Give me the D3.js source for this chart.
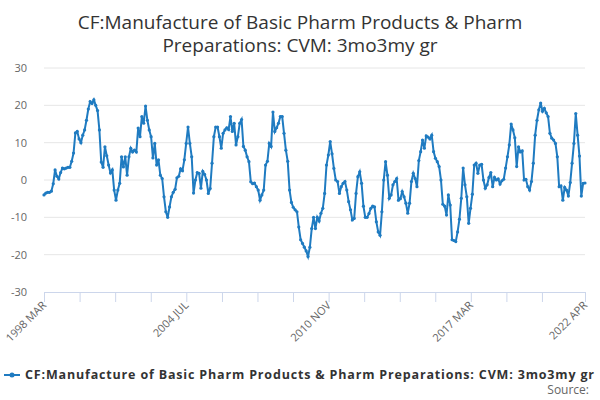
<!DOCTYPE html>
<html><head><meta charset="utf-8">
<script src="https://cdn.jsdelivr.net/npm/d3@7"></script>
<style>body{margin:0;background:#fff;font-family:"Open Sans","DejaVu Sans",sans-serif}</style>
</head><body><svg id="c" width="600" height="400"></svg>
<script>
const titleLines = ["CF:Manufacture of Basic Pharm Products & Pharm", "Preparations: CVM: 3mo3my gr"];
const seriesName = "CF:Manufacture of Basic Pharm Products & Pharm Preparations: CVM: 3mo3my gr";
const startDate = new Date(1998, 2, 1);
const endDate = new Date(2022, 3, 1);
const yTicks = [-30, -20, -10, 0, 10, 20, 30];
const tickLabels = [["1998 MAR", new Date(1998,2,1)], ["2004 JUL", new Date(2004,6,1)], ["2010 NOV", new Date(2010,10,1)], ["2017 MAR", new Date(2017,2,1)], ["2022 APR", new Date(2022,3,1)]];
const seg1 = [-4,-3.5,-3.3,-3.3,-3,-1,2.7,1,0.3,2,3.2,3,3.2,3.4,3.4,5,7.2,12.6,13,11,10,12,13.4,16,19,21,20.5,21.5,20,18.6,13.4,4.8,3.4,8.9,6.5,4,1.9,2.7,-2.7,-5.4,-2.7,-0.9,6.2,3.5,6.2,1.3,6.2,8.5,7.5,8,7.5,13.9,11.6,17,15.2,19.8,16,13.4,11.6,5.9,9.8,4,5.4,1.3,0.4,-4.5,-8.5,-10,-7.2,-4.5,-3.3,-2.5,0.6,1,3,2.5];
const seg2 = [5.4,9.8,14.2,9.8,6.2,-3.5,0,2,1.8,-2.2,2.3,1.5,0,-3.6,-2.3,4.5,11.6,14.2,14.2,11.6,8.5,12.5,13.4,14,13.5,17,13,15.2,9.4,11.6,15.2,16.2,9,8,6.2,4.9,-0.5,-1,-0.8,-1.8,-2.7,-5.4,-4,-2.7,4,5,9.8,9,18.2,13,14,15.2,17,17,12.5,8,5,-2.7,-6,-7.3,-8,-8.5,-12.6,-16,-17,-18,-19,-20.5,-18,-13,-10];
const seg3 = [-13,-10,-11,-8.9,-7.6,-3.6,4,6.7,10.3,7,3.1,0,-0.4,-3.6,-1.8,-0.9,-0.4,-2.7,-5.8,-8,-10.7,-10.3,-3.6,0.9,2.2,-0.9,-7,-10,-10,-9,-7.6,-7,-7.2,-11.2,-13.9,-14.8,-8.5,0,4.9,1.3,-4.9,-4,-1.3,-0.4,0.4,-5.4,-5,-3.1,-4.5,-6.2,-8.9,-6.2,-0.4,1.8,0.4,-1.8,5.2,7.6,10.7,8.5,11.8,11.5,11,12,7.6,5.8,4.9,3.6,0,-6.5,-7,-9.4,-4];
const seg4 = [-6.7,-16,-16.2,-16.5,-13.9,-10.5,-4.9,3.2,-1.3,-4.5,-11.6,-7.6,-3.8,4,4.5,1.8,4,4.2,0,-2.2,-1.3,0.7,2,-1.8,0.7,0,0.3,-1.1,-0.2,0.2,3.2,6.2,9.4,15,13.4,11.3,3.6,8.9,7.5,7.8,0,0.2,-1.8,-2.7,-0.4,4.5,12,16,18.8,20.6,18.4,19.2,18,17,12.5,11.2,10.7,9.8,6.2,-1.8,-1.6,-5.4,-2,-2.7,-4.3,-0.7,4.5,9.8,17.8,12,6.4,-4.3,-0.9,-0.8];
const values = seg1.concat(seg2, seg3, seg4);

const svg = d3.select("#c");
const color = "#1f7bc1";
const L = 44, R = 585, T = 68, B = 292;
const x = d3.scaleTime().domain([startDate, endDate]).range([L, R]);
const y = d3.scaleLinear().domain([-30, 30]).range([B, T]);
const span = endDate - startDate;
const data = values.map((v, i) => ({d: new Date(+startDate + span * i / (values.length - 1)), v}));

svg.selectAll(".t").data(titleLines).join("text")
  .attr("x", 300).attr("y", (d, i) => 29 + i * 23).attr("text-anchor", "middle")
  .attr("font-size", 19).attr("fill", "#333").text(d => d);

svg.append("g").selectAll("line").data(yTicks.filter(t => t > -30)).join("line")
  .attr("x1", L).attr("x2", R).attr("y1", d => y(d)).attr("y2", d => y(d)).attr("stroke", "#e6e6e6");
svg.append("g").selectAll("text").data(yTicks).join("text")
  .attr("x", 27).attr("y", d => y(d) + 4).attr("text-anchor", "end")
  .attr("font-size", 11).attr("fill", "#666").text(d => d);

const xa = svg.append("g").attr("transform", `translate(0,${B})`)
  .call(d3.axisBottom(x).tickValues(d3.range(0, 15).map(k => d3.timeMonth.offset(startDate, k * 19)).filter(d => d <= endDate).concat([endDate])).tickSize(10).tickFormat(""));
xa.select(".domain").attr("stroke", "#ccd6eb");
xa.selectAll(".tick line").attr("stroke", "#ccd6eb");

svg.append("g").selectAll("text").data(tickLabels).join("text")
  .attr("transform", d => `translate(${x(d[1]) + 3},${B + 14}) rotate(-45)`)
  .attr("text-anchor", "end").attr("font-size", 11).attr("fill", "#666").text(d => d[0]);

const line = d3.line().x(d => x(d.d)).y(d => y(d.v));
svg.append("path").datum(data).attr("d", line).attr("fill", "none").attr("stroke", color).attr("stroke-width", 2);
svg.append("g").selectAll("circle").data(data).join("circle")
  .attr("cx", d => x(d.d)).attr("cy", d => y(d.v)).attr("r", 1.6).attr("fill", color);

svg.append("line").attr("x1", 4).attr("x2", 20).attr("y1", 375).attr("y2", 375).attr("stroke", color).attr("stroke-width", 2);
svg.append("circle").attr("cx", 12).attr("cy", 375).attr("r", 2.5).attr("fill", color);
svg.append("text").attr("x", 25).attr("y", 379).attr("font-size", 12.5).attr("font-weight", "bold").attr("fill", "#333")
  .attr("textLength", 569).attr("lengthAdjust", "spacing").text(seriesName);
svg.append("text").attr("x", 589).attr("y", 394).attr("text-anchor", "end").attr("font-size", 12).attr("fill", "#666").text("Source:");
</script></body></html>
